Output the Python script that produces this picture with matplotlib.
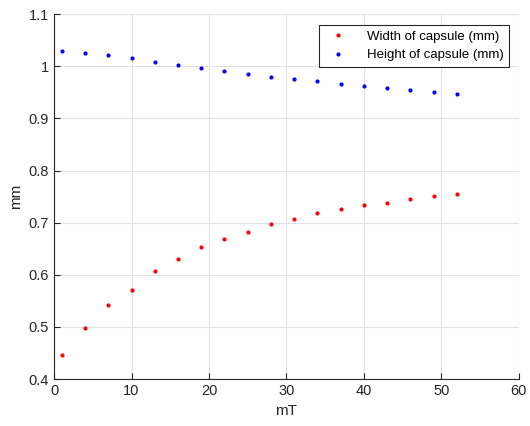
import matplotlib
matplotlib.use('Agg')
import matplotlib.pyplot as plt
from matplotlib.ticker import FuncFormatter

plt.rcParams['font.family'] = ['Liberation Sans', 'DejaVu Sans']

# ── Data ────────────────────────────────────────────────────
field_mT = [1, 4, 7, 10, 13, 16, 19, 22, 25, 28, 31, 34, 37, 40, 43, 46, 49, 52]
width_mm = [0.447, 0.499, 0.542, 0.571, 0.608, 0.631, 0.653, 0.668, 0.683,
            0.697, 0.708, 0.718, 0.726, 0.734, 0.738, 0.745, 0.752, 0.755]
height_mm = [1.029, 1.026, 1.021, 1.016, 1.008, 1.003, 0.997, 0.991, 0.986,
             0.980, 0.975, 0.971, 0.966, 0.962, 0.958, 0.954, 0.950, 0.946]

fig = plt.figure(figsize=(5.30, 4.26), dpi=100)
ax = fig.add_axes([0.102, 0.110, 0.877, 0.857])

ax.plot(field_mT, width_mm, '.', color='#ff0000', markersize=4,
        label='Width of capsule (mm)')
ax.plot(field_mT, height_mm, '.', color='#0000ff', markersize=4,
        label='Height of capsule (mm)')

ax.set_xlim(0, 60)
ax.set_ylim(0.4, 1.1)
ax.set_xticks(range(0, 61, 10))
ax.set_yticks([0.4, 0.5, 0.6, 0.7, 0.8, 0.9, 1.0, 1.1])
ax.yaxis.set_major_formatter(FuncFormatter(lambda v, p: f'{v:g}'))

ax.grid(True, color='#e3e3e3', linewidth=0.8)
ax.set_axisbelow(True)
for s in ['top', 'right']:
    ax.spines[s].set_visible(False)
for s in ['left', 'bottom']:
    ax.spines[s].set_color('#262626')
    ax.spines[s].set_linewidth(0.8)
ax.tick_params(direction='in', length=4, width=0.8, colors='#262626',
               labelsize=10.5, labelcolor='#262626')

ax.set_xlabel('mT', fontsize=11, color='#262626')
ax.set_ylabel('mm', fontsize=11, color='#262626')

leg = ax.legend(loc='upper right', bbox_to_anchor=(509 / 530, 1 - 25 / 426),
                bbox_transform=fig.transFigure, borderaxespad=0,
                fontsize=9.5, fancybox=False, framealpha=1,
                edgecolor='#262626', handletextpad=1.2, markerscale=1)
leg.get_frame().set_linewidth(0.8)

fig.savefig('out.png', dpi=100)
